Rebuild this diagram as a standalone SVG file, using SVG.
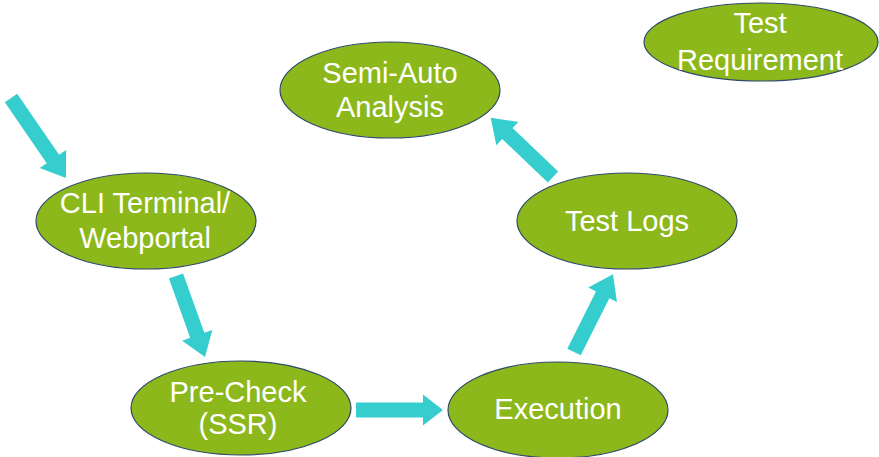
<svg xmlns="http://www.w3.org/2000/svg" width="879" height="457" viewBox="0 0 879 457">
  <style>
    .node ellipse { fill: #8cb81b; stroke: #2f4a6a; stroke-width: 1.2; }
    .node text { fill: #ffffff; font-family: "Liberation Sans", Arial, sans-serif; font-size: 29px; text-anchor: middle; }
    .arrow { fill: #35cdcd; }
  </style>
  <rect width="879" height="457" fill="#ffffff"/>

  <!-- connectors: block arrows drawn along local +x, then rotated into place -->
  <g id="connectors">
    <polygon class="arrow" transform="translate(11,98) rotate(55.5)" points="0,-7.5 74,-7.5 74,-16 97,0 74,16 74,7.5 0,7.5"/>
    <polygon class="arrow" transform="translate(176,276) rotate(70.3)" points="0,-7.5 63,-7.5 63,-16 86,0 63,16 63,7.5 0,7.5"/>
    <polygon class="arrow" transform="translate(356,410)" points="0,-7.5 67,-7.5 67,-15.5 87,0 67,15.5 67,7.5 0,7.5"/>
    <polygon class="arrow" transform="translate(574,352) rotate(-63.4)" points="0,-7.5 64,-7.5 64,-16 87,0 64,16 64,7.5 0,7.5"/>
    <polygon class="arrow" transform="translate(553,177) rotate(223.6)" points="0,-7.5 63,-7.5 63,-16 86,0 63,16 63,7.5 0,7.5"/>
  </g>

  <g id="node-cli" class="node">
    <ellipse cx="146" cy="221" rx="110" ry="48"/>
    <text x="145" y="213">CLI Terminal/</text>
    <text x="145" y="248">Webportal</text>
  </g>

  <g id="node-precheck" class="node">
    <ellipse cx="241" cy="408" rx="110" ry="47"/>
    <text x="238" y="402">Pre-Check</text>
    <text x="238" y="434">(SSR)</text>
  </g>

  <g id="node-execution" class="node">
    <ellipse cx="558" cy="410" rx="110" ry="48"/>
    <text x="558" y="419">Execution</text>
  </g>

  <g id="node-testlogs" class="node">
    <ellipse cx="627" cy="221" rx="110" ry="48"/>
    <text x="627" y="231">Test Logs</text>
  </g>

  <g id="node-semiauto" class="node">
    <ellipse cx="390" cy="90" rx="110" ry="48"/>
    <text x="390" y="83">Semi-Auto</text>
    <text x="390" y="117">Analysis</text>
  </g>

  <g id="node-testreq" class="node">
    <ellipse cx="761" cy="42" rx="117" ry="39"/>
    <text x="760" y="33">Test</text>
    <text x="760" y="70">Requirement</text>
  </g>
</svg>
